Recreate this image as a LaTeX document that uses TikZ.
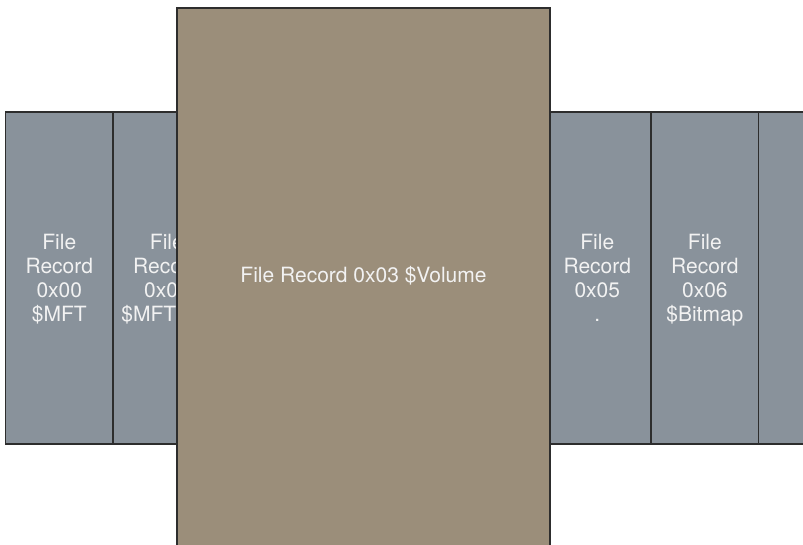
\documentclass[tikz,border=0pt]{standalone}
\usepackage{fontspec}
\setmainfont{TeX Gyre Heros}
\definecolor{cellgray}{RGB}{137,146,155}
\definecolor{volbrown}{RGB}{155,142,122}
\definecolor{edge}{RGB}{45,45,45}
\newcommand{\topgap}{\rule{0pt}{21.5pt}}
\newcommand{\botgap}{\rule[-7.2pt]{0pt}{0pt}}
\begin{document}
\begin{tikzpicture}[x=1pt,y=-1pt,
  lbl/.style={text=white!95!black,font=\fontsize{21}{24}\selectfont},
  cell/.style={lbl,draw=edge,line width=1.3pt,fill=cellgray,minimum width=107.6pt,minimum height=332pt,
    inner sep=0pt,align=center},
  vol/.style={draw=edge,line width=1.3pt,fill=volbrown,minimum width=373pt,minimum height=560pt,
    inner sep=0pt}]
\useasboundingbox (0,0) rectangle (803,544);
\clip (0,0) rectangle (803,544);
\node[cell] (c0) at (59.3,278) {\topgap File\\Record\\0x00\\\$MFT\botgap};
\node[cell] (c1) at (166.9,278) {\topgap File\\Record\\0x01\\\$MFTMirr\botgap};
\node[cell] (c2) at (274.5,278) {};
\node[cell] (c3) at (382.1,278) {};
\node[cell] (c4) at (489.7,278) {};
\node[cell] (c5) at (597.3,278) {\topgap File\\Record\\0x05\\.\botgap};
\node[cell] (c6) at (704.9,278) {\topgap File\\Record\\0x06\\\$Bitmap\botgap};
\node[cell] (c7) at (812.5,278) {};
\node[vol] (v) at (363.5,288) {};
\node[lbl] (vt) at (363.5,276) {File Record 0x03 \$Volume};
\end{tikzpicture}
\end{document}
